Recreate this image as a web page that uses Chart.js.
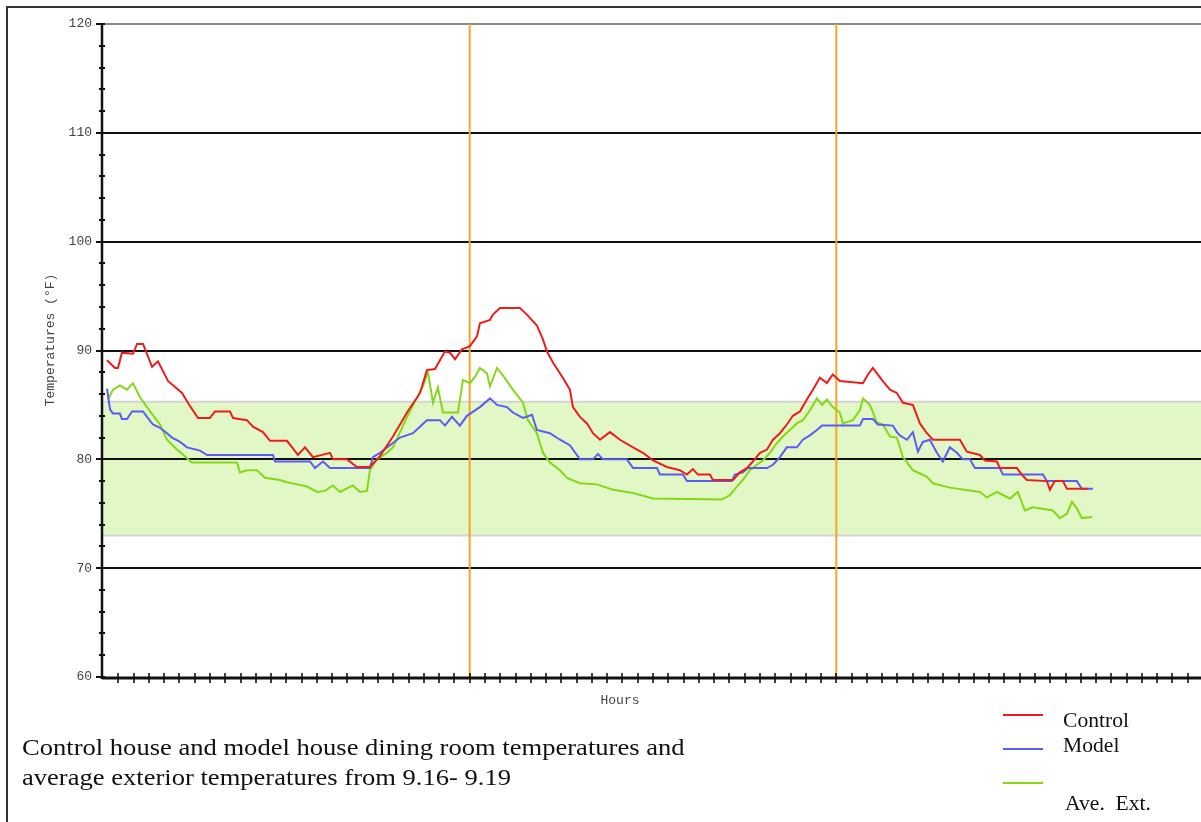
<!DOCTYPE html>
<html><head><meta charset="utf-8">
<script src="https://cdn.jsdelivr.net/npm/chart.js@4.4.0/dist/chart.umd.min.js"></script>
<style>
html,body{margin:0;padding:0;background:#fff;overflow:hidden;width:1201px;height:822px;}
#wrap{position:absolute;left:0;top:0;width:1203px;height:822px;}
#c{position:absolute;left:0;top:0;}
.frameL{position:absolute;left:6px;top:6px;width:2px;height:816px;background:#333;}
.frameT{position:absolute;left:6px;top:6px;width:1200px;height:2px;background:#333;}
.cap{position:absolute;left:22px;font-family:"Liberation Serif","Times New Roman",serif;font-size:23px;line-height:23px;color:#111;white-space:nowrap;transform-origin:0 50%;transform:scaleX(1.155);}
.lt{position:absolute;font-family:"Liberation Serif","Times New Roman",serif;font-size:20px;line-height:20px;color:#111;white-space:nowrap;transform-origin:0 50%;transform:scaleX(1.08);}
.ll{position:absolute;left:1003px;width:40px;height:2px;}
</style>
</head><body>
<div id="wrap"><canvas id="c" width="1203" height="822"></canvas></div>
<div class="frameL"></div><div class="frameT"></div>
<div class="cap" style="top:736px">Control house and model house dining room temperatures and</div>
<div class="cap" style="top:766px">average exterior temperatures from 9.16- 9.19</div>
<div class="ll" style="top:714px;background:#ee1c1c"></div>
<div class="lt" style="left:1063px;top:710px">Control</div>
<div class="ll" style="top:748px;background:#5b5bf5"></div>
<div class="lt" style="left:1063px;top:735px">Model</div>
<div class="ll" style="top:782px;background:#84d915"></div>
<div class="lt" style="left:1065px;top:793px">Ave.&nbsp; Ext.</div>
<script>
const seriesNames = ["Control", "Model", "Ave. Ext."];
const hourRange = [0, 72];
const tempRange = [60, 120];
const tempMajorStep = 10;
const tempMinorStep = 2;
const dayMarkers = [24, 48];
const comfortBand = [73.0, 85.3];
const xTitle = "Hours";
const yTitle = "Temperatures (°F)";

const controlHours = [0.26,0.79,0.98,1.24,1.96,2.23,2.62,3.21,3.60,4.25,5.17,5.69,6.22,7.00,7.33,8.31,8.51,9.42,9.82,10.47,10.93,12.04,12.43,12.76,13.22,13.74,14.86,15.05,15.97,16.62,17.47,18.13,18.98,19.90,20.75,21.20,21.73,22.38,22.71,23.04,23.49,24.02,24.48,24.67,25.33,25.52,25.98,27.29,27.75,28.40,28.80,29.06,29.45,30.10,30.56,30.76,31.22,31.68,32.07,32.53,33.18,33.84,34.69,35.34,36.00,36.91,37.76,38.22,38.61,38.94,39.73,39.92,41.23,41.69,42.15,42.54,43.00,43.46,43.85,44.31,44.76,45.16,45.62,46.07,46.47,46.92,47.38,47.77,48.23,49.74,50.07,50.39,50.98,51.51,51.96,52.36,53.01,53.47,53.93,54.32,56.09,56.54,57.40,57.72,58.51,58.70,59.82,60.14,60.47,61.78,61.98,62.30,62.83,63.09,64.46];
const controlTemps = [89.1,88.4,88.4,89.8,89.7,90.6,90.6,88.5,89.0,87.2,86.1,84.9,83.8,83.8,84.4,84.4,83.8,83.6,83.0,82.5,81.7,81.7,81.0,80.4,81.1,80.2,80.6,80.0,80.0,79.3,79.3,80.3,82.1,84.3,86.1,88.2,88.3,89.9,89.8,89.2,90.1,90.4,91.3,92.5,92.8,93.3,93.9,93.9,93.3,92.3,91.0,89.9,88.9,87.5,86.4,84.8,83.9,83.3,82.4,81.8,82.5,81.8,81.1,80.6,79.9,79.3,79.0,78.6,79.1,78.6,78.6,78.1,78.1,78.8,79.2,79.8,80.6,80.9,81.8,82.4,83.2,84.0,84.4,85.5,86.4,87.5,87.0,87.8,87.2,87.0,87.8,88.4,87.3,86.4,86.1,85.2,85.0,83.3,82.4,81.8,81.8,80.7,80.4,79.9,79.8,79.2,79.2,78.6,78.1,78.0,77.2,78.0,78.0,77.3,77.3];

const modelHours = [0.26,0.46,0.65,1.11,1.24,1.57,1.90,2.62,2.88,3.27,3.73,4.19,4.52,5.04,5.50,6.35,6.81,11.13,11.26,13.55,13.87,14.40,14.86,17.47,17.67,18.13,19.44,20.29,21.20,22.05,22.38,22.84,23.36,23.82,24.67,25.33,25.79,26.44,26.83,27.49,28.08,28.40,29.25,29.91,30.56,31.22,32.07,32.40,32.72,34.29,34.69,36.26,36.45,37.96,38.22,41.16,41.36,41.88,42.21,43.46,43.85,44.31,44.76,45.42,45.81,46.27,46.73,47.06,49.54,49.74,50.39,50.72,51.70,51.96,52.16,52.62,53.01,53.34,53.66,54.12,54.58,54.97,55.43,55.89,56.28,56.74,57.07,58.70,58.90,61.52,61.78,63.74,64.07,64.79];
const modelTemps = [86.5,84.6,84.2,84.2,83.7,83.7,84.4,84.4,83.9,83.2,82.9,82.4,82.0,81.6,81.1,80.8,80.4,80.4,79.8,79.8,79.2,79.8,79.2,79.2,80.2,80.6,82.0,82.4,83.6,83.6,83.1,83.9,83.1,84.0,84.8,85.6,85.0,84.8,84.3,83.8,84.1,82.7,82.4,81.8,81.3,80.0,80.0,80.5,80.0,80.0,79.2,79.2,78.6,78.6,78.0,78.0,78.6,78.8,79.2,79.2,79.5,80.2,81.1,81.1,81.8,82.2,82.7,83.1,83.1,83.7,83.7,83.2,83.1,82.5,82.2,81.8,82.5,80.7,81.6,81.8,80.6,79.8,81.1,80.6,80.0,80.0,79.2,79.2,78.6,78.6,78.0,78.0,77.3,77.3];

const extHours = [0.33,0.65,1.11,1.57,1.96,2.42,3.08,3.73,4.19,4.84,5.50,5.82,8.77,8.97,9.42,10.08,10.60,11.58,12.04,12.70,13.35,14.01,14.53,15.05,15.51,16.36,16.82,17.28,17.47,17.93,18.59,18.98,19.90,20.94,21.27,21.60,21.92,22.25,23.23,23.56,24.02,24.35,24.67,25.13,25.33,25.79,26.18,26.83,27.49,27.81,28.40,28.80,29.25,29.91,30.37,31.22,32.33,33.38,34.69,36.00,40.51,41.03,41.49,41.88,42.34,42.80,43.19,43.65,44.11,44.50,44.96,45.42,45.81,46.27,46.73,47.06,47.38,47.77,48.23,48.43,49.08,49.54,49.74,50.20,50.65,51.05,51.51,51.96,52.36,53.01,53.47,53.93,54.32,55.43,57.40,57.85,58.51,59.36,59.88,60.34,60.86,62.17,62.63,63.09,63.42,63.74,64.07,64.73];
const extTemps = [85.5,86.4,86.8,86.4,87.0,85.7,84.4,83.2,81.8,80.9,80.1,79.7,79.7,78.8,79.0,79.0,78.3,78.1,77.9,77.7,77.5,77.0,77.1,77.6,77.0,77.6,77.0,77.1,79.0,80.0,80.6,81.1,83.9,86.7,88.0,85.2,86.6,84.3,84.3,87.3,87.0,87.6,88.4,87.9,86.7,88.4,87.7,86.4,85.2,83.6,82.4,80.6,79.7,79.0,78.3,77.8,77.7,77.2,76.9,76.4,76.3,76.7,77.5,78.1,79.0,79.5,79.9,80.6,81.5,82.1,82.7,83.3,83.6,84.5,85.6,85.0,85.5,84.8,84.3,83.3,83.6,84.5,85.6,85.0,83.4,83.2,82.1,82.0,80.2,79.0,78.7,78.4,77.8,77.4,77.0,76.5,77.0,76.4,77.0,75.3,75.6,75.3,74.6,75.0,76.1,75.5,74.6,74.7];

const seriesColors = ["#ee1c1c", "#5b5bf5", "#84d915"];

function pts(h, t) { return h.map((x, i) => ({ x: x, y: t[i] })); }

const monoFont = '13px "Liberation Mono", "DejaVu Sans Mono", monospace';

const decor = {
  id: 'decor',
  beforeDatasetsDraw(chart) {
    const { ctx, chartArea: a, scales: { x, y } } = chart;
    ctx.save();
    const yt = y.getPixelForValue(comfortBand[1]);
    const yb = y.getPixelForValue(comfortBand[0]);
    ctx.fillStyle = '#e1f8c6';
    ctx.fillRect(a.left, yt, a.right - a.left, yb - yt);
    ctx.strokeStyle = '#d4d4d4';
    ctx.lineWidth = 2;
    [yt, yb].forEach(p => { ctx.beginPath(); ctx.moveTo(a.left, p); ctx.lineTo(a.right, p); ctx.stroke(); });
    for (let v = tempRange[0] + tempMajorStep; v < tempRange[1]; v += tempMajorStep) {
      const p = Math.round(y.getPixelForValue(v));
      ctx.strokeStyle = '#111'; ctx.lineWidth = 2;
      ctx.beginPath(); ctx.moveTo(a.left, p); ctx.lineTo(a.right, p); ctx.stroke();
    }
    const pTop = y.getPixelForValue(tempRange[1]);
    ctx.strokeStyle = '#8a8a8a'; ctx.lineWidth = 2;
    ctx.beginPath(); ctx.moveTo(a.left, pTop); ctx.lineTo(a.right, pTop); ctx.stroke();
    ctx.strokeStyle = '#f5a52a'; ctx.lineWidth = 2;
    dayMarkers.forEach(d => {
      const p = x.getPixelForValue(d);
      ctx.beginPath(); ctx.moveTo(p, pTop); ctx.lineTo(p, a.bottom); ctx.stroke();
    });
    const ax = a.left - 1;
    ctx.strokeStyle = '#111'; ctx.lineWidth = 2.5;
    ctx.beginPath(); ctx.moveTo(ax, pTop); ctx.lineTo(ax, a.bottom + 2); ctx.stroke();
    ctx.lineWidth = 2;
    for (let v = tempRange[0]; v <= tempRange[1]; v += tempMinorStep) {
      const p = Math.round(y.getPixelForValue(v));
      const major = (v % tempMajorStep) === 0;
      ctx.beginPath(); ctx.moveTo(ax - (major ? 6 : 3), p); ctx.lineTo(ax + 3, p); ctx.stroke();
    }
    const by = a.bottom + 1;
    ctx.lineWidth = 3;
    ctx.beginPath(); ctx.moveTo(ax, by); ctx.lineTo(a.right, by); ctx.stroke();
    ctx.lineWidth = 1.6;
    for (let h = hourRange[0] + 1; h <= hourRange[1]; h++) {
      const p = Math.round(x.getPixelForValue(h));
      ctx.beginPath(); ctx.moveTo(p, by - 5); ctx.lineTo(p, by + 5); ctx.stroke();
    }
    ctx.restore();
  },
  afterDraw(chart) {
    const { ctx } = chart;
    ctx.save();
    ctx.font = monoFont;
    ctx.fillStyle = '#444';
    ctx.textAlign = 'center';
    ctx.textBaseline = 'middle';
    ctx.fillText(xTitle, 620, 701);
    ctx.translate(51, 340);
    ctx.rotate(-Math.PI / 2);
    ctx.fillText(yTitle, 0, 0);
    ctx.restore();
  }
};

new Chart(document.getElementById('c'), {
  type: 'line',
  data: {
    datasets: [
      { label: seriesNames[0], data: pts(controlHours, controlTemps), borderColor: seriesColors[0] },
      { label: seriesNames[1], data: pts(modelHours, modelTemps), borderColor: seriesColors[1] },
      { label: seriesNames[2], data: pts(extHours, extTemps), borderColor: seriesColors[2] }
    ].map(d => Object.assign(d, { borderWidth: 2, pointRadius: 0, tension: 0, fill: false }))
  },
  options: {
    responsive: false,
    animation: false,
    events: [],
    layout: { padding: { top: 24, left: 0, right: 0, bottom: 0 } },
    plugins: { legend: { display: false }, tooltip: { enabled: false } },
    scales: {
      x: {
        type: 'linear', min: hourRange[0], max: hourRange[1],
        grid: { display: false, drawTicks: false }, border: { display: false },
        ticks: { display: false },
        afterFit: s => { s.height = 145; }
      },
      y: {
        type: 'linear', min: tempRange[0], max: tempRange[1],
        grid: { display: false, drawTicks: false }, border: { display: false },
        ticks: { stepSize: tempMajorStep, padding: 11, color: '#444', font: { family: '"Liberation Mono", "DejaVu Sans Mono", monospace', size: 13 } },
        afterFit: s => { s.width = 103; }
      }
    }
  },
  plugins: [decor]
});
</script>
</body></html>
